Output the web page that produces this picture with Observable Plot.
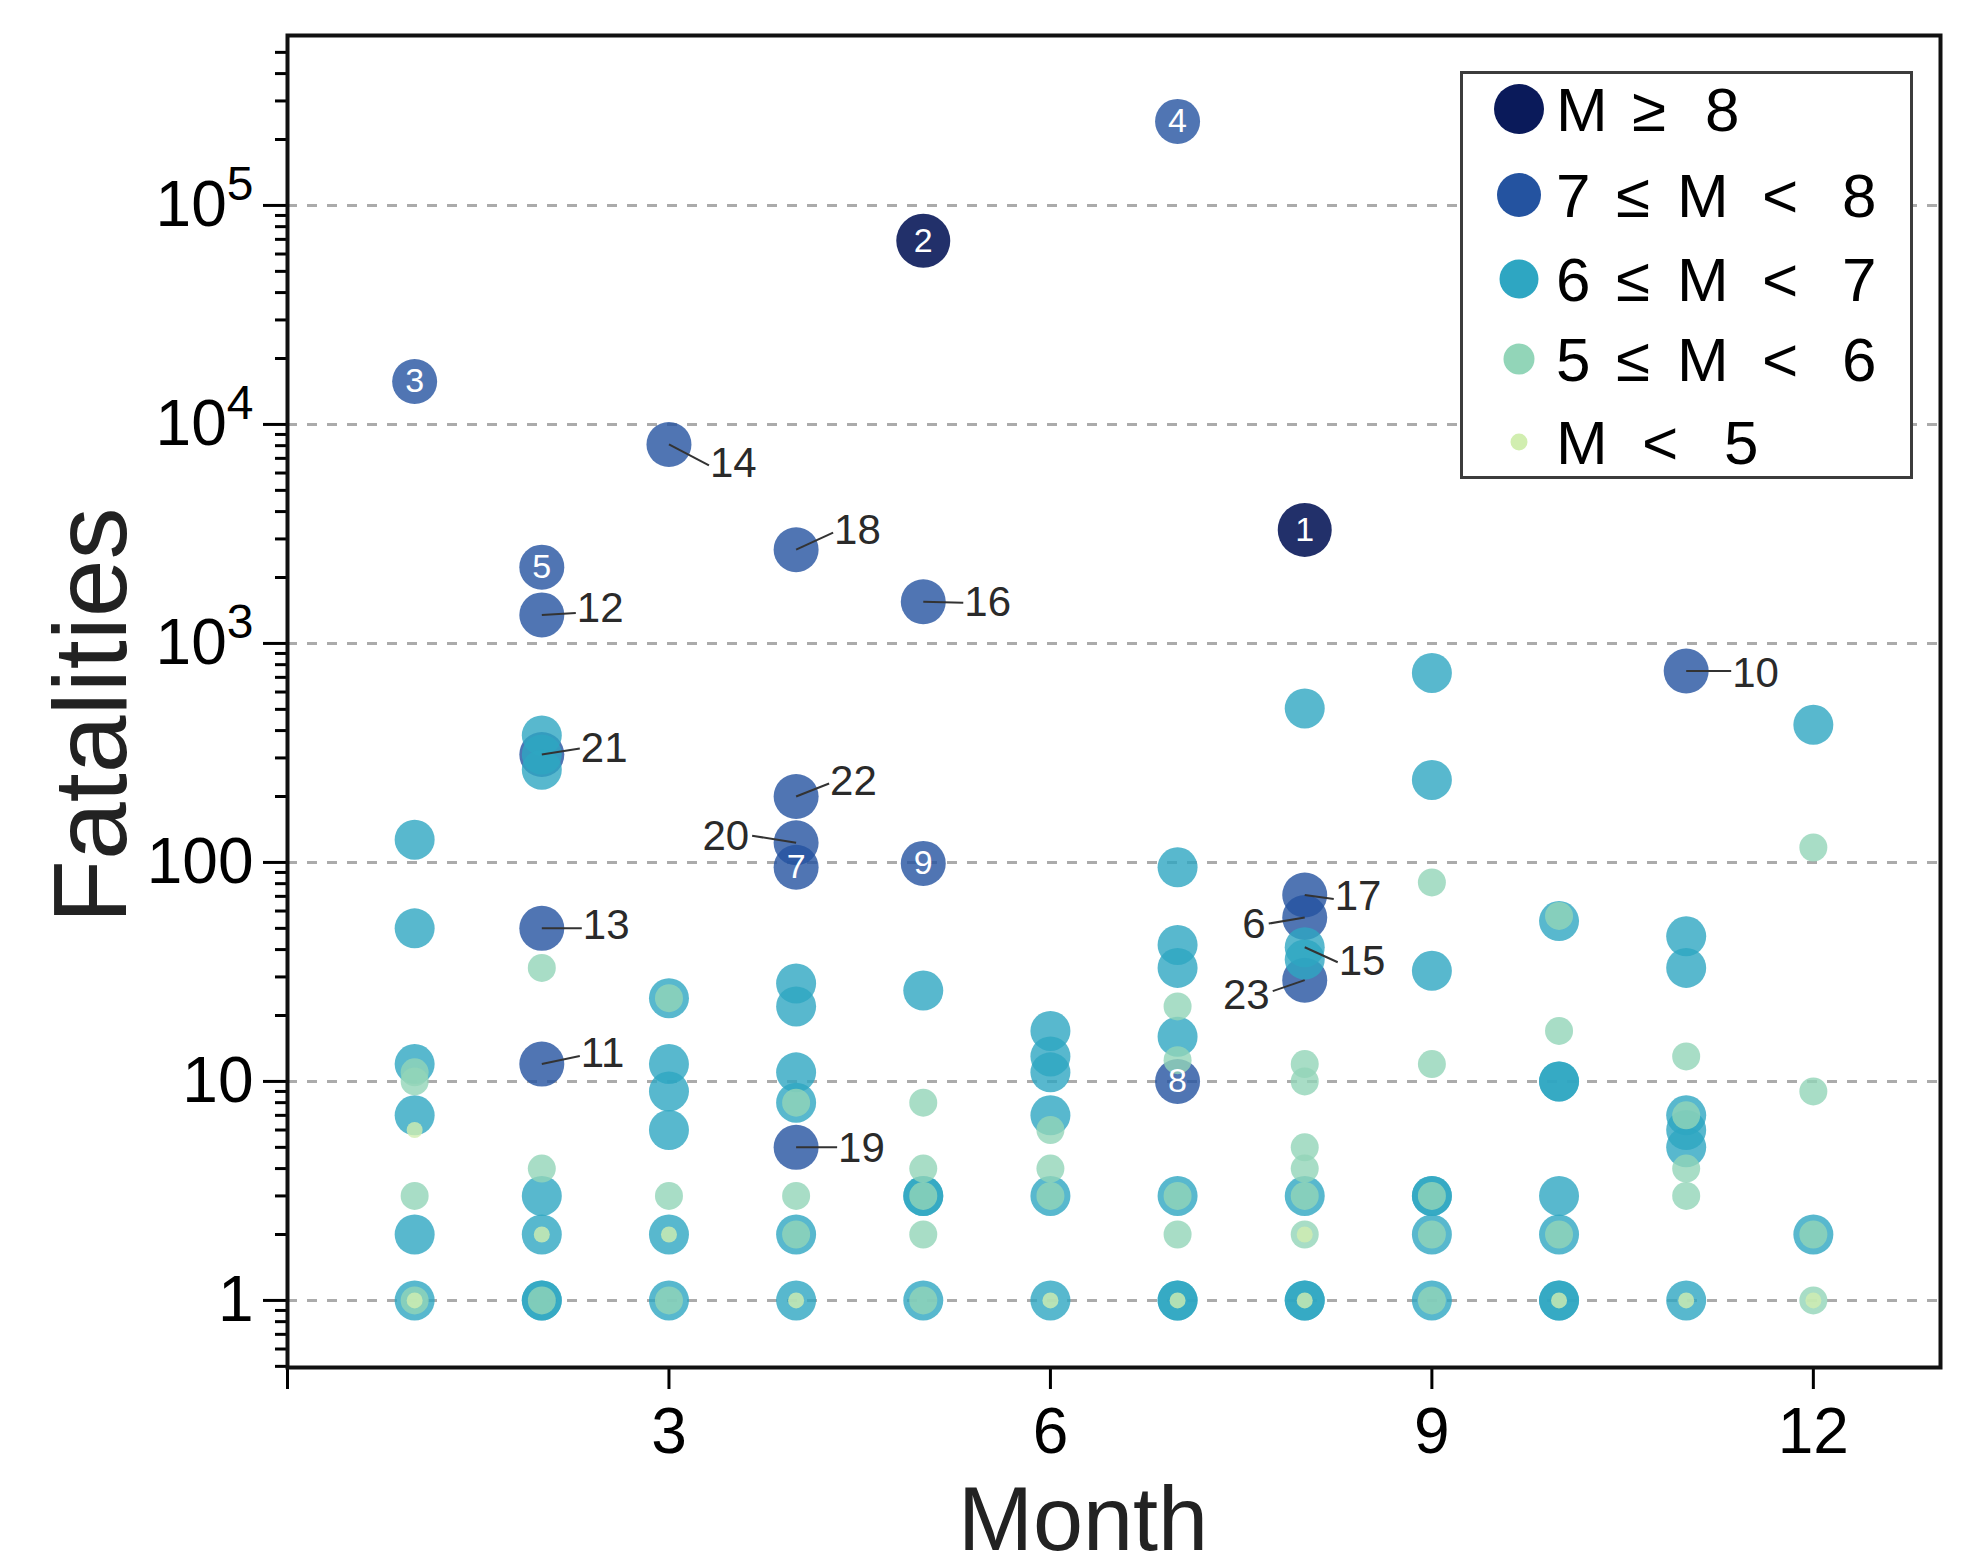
<!DOCTYPE html>
<html>
<head>
<meta charset="utf-8">
<script src="https://cdn.jsdelivr.net/npm/d3@7"></script>
<script src="https://cdn.jsdelivr.net/npm/@observablehq/plot@0.6"></script>
<style>
  body { margin: 0; background: #fff; }
  #grafico { position: relative; width: 1971px; height: 1568px; }
  #grafico svg { position: absolute; left: 0; top: 0; }
</style>
</head>
<body>
<div id="grafico"></div>
<script>
// clases de magnitud, de mayor a menor
const clases = ["M ≥ 8", "7 ≤ M < 8", "6 ≤ M < 7", "5 ≤ M < 6", "M < 5"];
const colores = ["#0a1a5a", "#2453a0", "#2ea6c2", "#92d5b8", "#d1eeb0"];

// sismos numerados
const eventoId      = [1, 2, 3, 4, 5, 6, 7, 8, 9, 10, 11, 12, 13, 14, 15, 16, 17, 18, 19, 20, 21, 22, 23];
const eventoMes     = [8, 5, 1, 7, 2, 8, 4, 7, 5, 11, 2, 2, 2, 3, 8, 5, 8, 4, 4, 4, 2, 4, 8];
const eventoMuertes = [3300, 69000, 15700, 242000, 2230, 56, 95, 10, 99, 748, 12, 1350, 50, 8100, 41, 1550, 71, 2680, 5, 123, 311, 200, 29];
const eventoClase   = [0, 0, 1, 1, 1, 1, 1, 1, 1, 1, 1, 1, 1, 1, 2, 1, 1, 1, 1, 1, 1, 1, 1];
// los que llevan el número dentro del círculo
const idsDentro = [1, 2, 3, 4, 5, 7, 8, 9];

// resto de sismos 6 <= M < 7
const mesM6 = [1, 1, 1, 1, 1, 1, 2, 2, 2, 2, 2, 2, 2, 3, 3, 3, 3, 3, 3, 4, 4, 4, 4, 4, 4, 5, 5, 5, 5,
  6, 6, 6, 6, 6, 6, 7, 7, 7, 7, 7, 7, 7, 8, 8, 8, 8, 8, 9, 9, 9, 9, 9, 9, 9,
  10, 10, 10, 10, 10, 10, 10, 11, 11, 11, 11, 11, 11, 12, 12];
const muertesM6 = [127, 50, 12, 7, 2, 1, 380, 311, 265, 3, 2, 1, 1, 24, 12, 9, 6, 2, 1, 28, 22, 11, 8, 2, 1, 26, 3, 3, 1,
  17, 13, 11, 7, 3, 1, 95, 42, 33, 16, 3, 1, 1, 505, 36, 3, 1, 1, 733, 238, 32, 3, 3, 2, 1,
  54, 10, 10, 3, 2, 1, 1, 46, 33, 7, 6, 5, 1, 425, 2];

// 5 <= M < 6
const mesM5 = [1, 1, 1, 1, 2, 2, 2, 3, 3, 3, 4, 4, 4, 5, 5, 5, 5, 5, 6, 6, 6, 7, 7, 7, 7,
  8, 8, 8, 8, 8, 8, 9, 9, 9, 9, 9, 10, 10, 10, 11, 11, 11, 11, 12, 12, 12, 12];
const muertesM5 = [11, 10, 3, 1, 33, 4, 1, 24, 3, 1, 8, 3, 2, 8, 4, 3, 2, 1, 6, 4, 3, 22, 12.5, 3, 2,
  12, 10, 5, 4, 3, 2, 81, 12, 3, 2, 1, 57, 17, 2, 13, 7, 4, 3, 117, 9, 2, 1];

// M < 5
const mesM4 = [1, 1, 2, 3, 4, 6, 7, 8, 8, 10, 11, 12];
const muertesM4 = [6, 1, 2, 2, 1, 1, 1, 2, 1, 1, 1, 1];

const ticksX = [0, 3, 6, 9, 12];
const ticksY = [1, 10, 100, 1000, 10000, 100000];

// medidas del dibujo
const ancho = 1971, alto = 1568;
const mTop = 35, mRight = 31, mBottom = 201, mLeft = 287;
const radios = [27, 22.5, 20, 14, 8];
const opacidad = [0.9, 0.8, 0.8, 0.8, 0.8];
const fuente = "'Liberation Sans', Arial, sans-serif";

// dónde va cada etiqueta externa: fin de la línea (px desde el centro), anclaje y ajuste vertical del texto
const etiquetasFuera = {
  6: [-36, 6, "end", 1], 10: [45, 0, "start", 2], 11: [38, -8, "start", -3],
  12: [34, -2, "start", -4], 13: [40, 0, "start", -3], 14: [40, 21, "start", -2],
  15: [33, 15, "start", -1], 16: [40, 1, "start", 0], 17: [29, 4, "start", -2],
  18: [37, -17, "start", -2], 19: [41, 0, "start", 1], 20: [-44, -7, "end", 1],
  21: [38, -6, "start", 0], 22: [33, -13, "start", -2], 23: [-32, 11, "end", 4]
};

let puntos = [];
eventoId.forEach((id, i) => puntos.push({mes: eventoMes[i], muertes: eventoMuertes[i], clase: eventoClase[i], id}));
mesM6.forEach((m, i) => puntos.push({mes: m, muertes: muertesM6[i], clase: 2}));
mesM5.forEach((m, i) => puntos.push({mes: m, muertes: muertesM5[i], clase: 3}));
mesM4.forEach((m, i) => puntos.push({mes: m, muertes: muertesM4[i], clase: 4}));
puntos.sort((a, b) => a.clase - b.clase);

const dentro = puntos.filter(d => idsDentro.includes(d.id));

// escalas sueltas para pasar desplazamientos en px a valores
const escX = Plot.scale({x: {domain: [0, 13], range: [mLeft, ancho - mRight]}});
const escY = Plot.scale({y: {type: "log", domain: [0.494, 597000], range: [alto - mBottom, mTop]}});

const fuera = puntos.filter(d => etiquetasFuera[d.id]).map(d => {
  const [lx, ly, anc, tdy] = etiquetasFuera[d.id];
  const px = escX.apply(d.mes), py = escY.apply(d.muertes);
  return {
    ...d, anc,
    x2: escX.invert(px + lx), y2: escY.invert(py + ly),
    xt: escX.invert(px + lx + (anc === "start" ? 1 : -3)), yt: escY.invert(py + ly + tdy)
  };
});

const menores = [];
for (let e = -1; e <= 5; e++) for (let k = 2; k <= 9; k++) {
  const v = k * Math.pow(10, e);
  if (v >= 0.494 && v <= 597000) menores.push(v);
}

const chart = Plot.plot({
  width: ancho,
  height: alto,
  marginTop: mTop, marginRight: mRight, marginBottom: mBottom, marginLeft: mLeft,
  style: {fontFamily: fuente, background: "transparent", color: "#000"},
  x: {domain: [0, 13], label: null},
  y: {type: "log", domain: [0.494, 597000], label: null},
  r: {type: "identity"},
  marks: [
    Plot.gridY(ticksY, {stroke: "#ababab", strokeOpacity: 1, strokeWidth: 3, strokeDasharray: "10,10"}),
    Plot.axisY({ticks: menores, tickSize: 12, strokeWidth: 3, tickFormat: () => "", label: null}),
    Plot.axisY({ticks: ticksY, tickSize: 24, tickPadding: 10, strokeWidth: 3, fontSize: 64, label: null,
      tickFormat: d => d >= 1000 ? "10^" + Math.round(Math.log10(d)) : String(d)}),
    Plot.axisX({ticks: ticksX, tickSize: 22, tickPadding: 18, strokeWidth: 3, fontSize: 64, label: null,
      tickFormat: d => d === 0 ? "" : String(d)}),
    Plot.frame({stroke: "#111", strokeWidth: 4}),
    Plot.dot(puntos, {
      x: "mes", y: "muertes",
      r: d => radios[d.clase],
      fill: d => colores[d.clase],
      fillOpacity: d => opacidad[d.clase],
      sort: null
    }),
    Plot.link(fuera, {x1: "mes", y1: "muertes", x2: "x2", y2: "y2", stroke: "#333", strokeWidth: 2}),
    Plot.text(fuera.filter(d => d.anc === "start"), {x: "xt", y: "yt", text: "id", textAnchor: "start", fontSize: 42, fill: "#2a2a2a"}),
    Plot.text(fuera.filter(d => d.anc === "end"), {x: "xt", y: "yt", text: "id", textAnchor: "end", fontSize: 42, fill: "#2a2a2a"}),
    Plot.text(dentro, {x: "mes", y: "muertes", text: "id", fill: "white", fontSize: 34}),
    Plot.text(["Fatalities"], {frameAnchor: "left", textAnchor: "middle", lineAnchor: "middle",
      dx: -195, dy: 14, rotate: -90, fontSize: 104, fill: "#222"}),
    Plot.text(["Month"], {frameAnchor: "bottom", textAnchor: "middle", lineAnchor: "middle",
      dx: -31, dy: 154, fontSize: 90, fill: "#222"})
  ]
});

// exponentes como superíndice
d3.select(chart).selectAll('g[aria-label="y-axis tick label"] text').each(function () {
  const t = d3.select(this);
  const s = t.text();
  if (s.includes("^")) {
    const [base, exp] = s.split("^");
    t.text(base);
    t.append("tspan").attr("font-size", 48).attr("dy", -26).text(exp);
  }
});

d3.select("#grafico").append(() => chart);

// leyenda dentro del marco
const filaY = [109, 195, 279, 359, 442];
const radiosLeyenda = [25, 22, 19.5, 15.5, 8.5];
const piezas = [
  [["M", 1556], ["≥", 1632], ["8", 1705]],
  [["7", 1556], ["≤", 1616], ["M", 1677], ["<", 1762], ["8", 1842]],
  [["6", 1556], ["≤", 1616], ["M", 1677], ["<", 1762], ["7", 1842]],
  [["5", 1556], ["≤", 1616], ["M", 1677], ["<", 1762], ["6", 1842]],
  [["M", 1556], ["<", 1642], ["5", 1724]]
];

const ley = d3.select("#grafico").append("svg")
  .attr("width", ancho).attr("height", alto)
  .style("pointer-events", "none")
  .attr("font-family", fuente);

ley.append("rect")
  .attr("x", 1461.5).attr("y", 72.5).attr("width", 450).attr("height", 405)
  .attr("fill", "white").attr("stroke", "#3c3c3c").attr("stroke-width", 3);

clases.forEach((c, i) => {
  ley.append("circle").attr("cx", 1519).attr("cy", filaY[i]).attr("r", radiosLeyenda[i]).attr("fill", colores[i]);
  piezas[i].forEach(([s, x]) => {
    ley.append("text").attr("x", x).attr("y", filaY[i] + 22).attr("font-size", 62).attr("fill", "#000").text(s);
  });
});
</script>
</body>
</html>
